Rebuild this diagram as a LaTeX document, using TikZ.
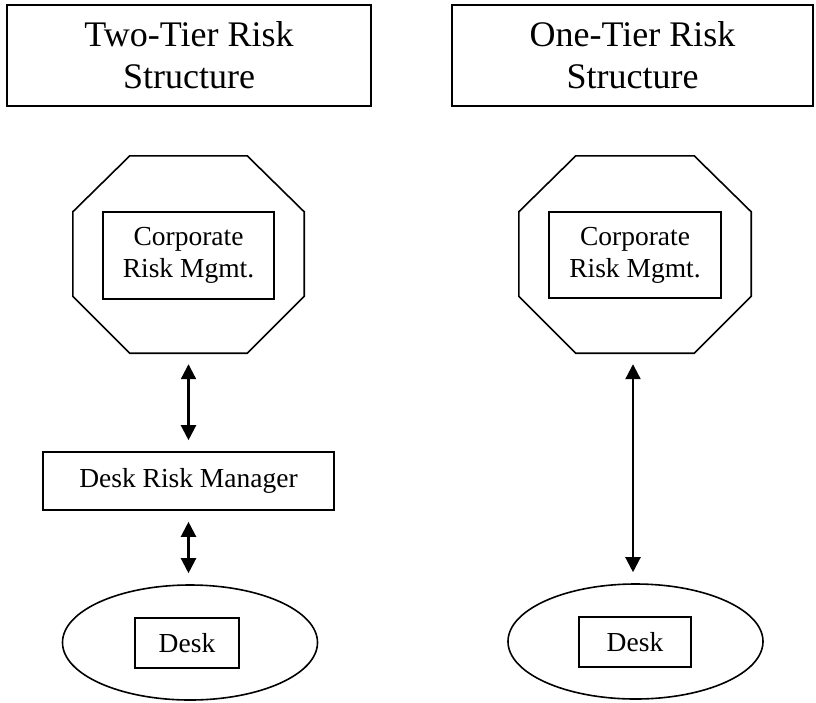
\documentclass[tikz,border=0pt]{standalone}
\usepackage{fontspec}
\setmainfont{Liberation Serif}
\usetikzlibrary{arrows.meta,shapes.geometric}

\begin{document}
\begin{tikzpicture}[x=1pt,y=-1pt,
  titlebox/.style={draw, line width=1.6pt, align=center, inner sep=0pt,
    font=\fontsize{36}{42}\selectfont},
  innerbox/.style={draw, line width=1.4pt, align=center, inner sep=0pt,
    font=\fontsize{27.5}{32}\selectfont},
  area/.style={inner sep=0pt},
  outline/.style={line width=1.6pt, line join=miter},
  link/.style={line width=2.2pt, {Triangle[width=15pt,length=15pt]}-{Triangle[width=15pt,length=15pt]},
    shorten <=11pt, shorten >=11pt}
]
\useasboundingbox (0,0) rectangle (816,702);

% headings
\node[titlebox, minimum width=364pt, minimum height=101pt] (titleL) at (189,55.5)
  {Two-Tier Risk\\Structure};
\node[titlebox, minimum width=361pt, minimum height=101pt] (titleR) at (632.5,55.5)
  {One-Tier Risk\\Structure};

% octagon frames for corporate risk management
\node[area, minimum width=231pt, minimum height=197pt] (octL) at (188.5,254.5) {};
\node[area, minimum width=232pt, minimum height=197pt] (octR) at (635,254.5) {};
\foreach \o in {octL,octR}{
  \draw[outline]
    ([xshift=57pt]\o.north west) -- ([xshift=-57pt]\o.north east)
    -- ([yshift=-56pt]\o.north east) -- ([yshift=57pt]\o.south east)
    -- ([xshift=-57pt]\o.south east) -- ([xshift=57pt]\o.south west)
    -- ([yshift=57pt]\o.south west) -- ([yshift=-56pt]\o.north west) -- cycle;
}
\node[innerbox, minimum width=171pt, minimum height=87pt] (crmL) at (188.5,255.5)
  {Corporate\\Risk Mgmt.};
\node[innerbox, minimum width=172pt, minimum height=86pt] (crmR) at (635,255)
  {Corporate\\Risk Mgmt.};

% desk risk manager (two-tier only)
\node[innerbox, line width=1.6pt, minimum width=291pt, minimum height=58pt] (drm) at (188.5,481)
  {Desk Risk Manager};

% desks
\node[draw, ellipse, outline, minimum width=255pt, minimum height=115pt, inner sep=0pt] (ellL) at (190,642.5) {};
\node[draw, ellipse, outline, minimum width=255pt, minimum height=115pt, inner sep=0pt] (ellR) at (635.5,641.5) {};
\node[innerbox, minimum width=104pt, minimum height=50pt] (deskL) at (187,643) {Desk};
\node[innerbox, minimum width=112pt, minimum height=50pt] (deskR) at (635,642) {Desk};

% reporting links
\draw[link] (octL.south) -- (drm.north);
\draw[link] (drm.south) -- (drm.south |- ellL.north);
\draw[link] ([xshift=-2pt]octR.south) -- ([xshift=-2pt]octR.south |- ellR.north);
\end{tikzpicture}
\end{document}
